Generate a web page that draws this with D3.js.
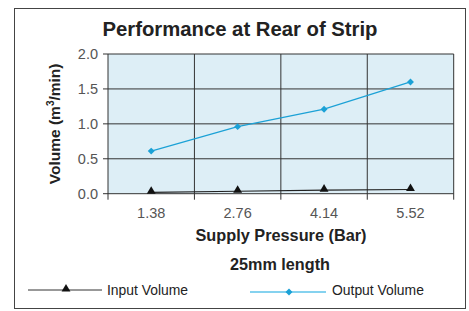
<!DOCTYPE html>
<html><head><meta charset="utf-8">
<script src="https://cdn.jsdelivr.net/npm/d3@7"></script>
<style>body{margin:0;background:#fff}svg{display:block}text{font-family:"Liberation Sans",Arial,sans-serif}</style>
</head><body><svg id="c" width="469" height="311"></svg>
<script>
const categories = ["1.38","2.76","4.14","5.52"];
const inputVolume = [0.02, 0.035, 0.05, 0.06];
const outputVolume = [0.61, 0.96, 1.21, 1.6];
const yTicks = [0, 0.5, 1.0, 1.5, 2.0];

const svg = d3.select("#c");
svg.append("rect").attr("x",14.5).attr("y",8.5).attr("width",451).attr("height",300)
  .attr("fill","#fff").attr("stroke","#444").attr("stroke-width",1);

const m = {l:108, r:453.7, t:54, b:193.7};
const x = d3.scaleBand().domain(categories).range([m.l, m.r]);
const y = d3.scaleLinear().domain([0,2]).range([m.b, m.t]);

svg.append("rect").attr("x",m.l).attr("y",m.t).attr("width",m.r-m.l).attr("height",m.b-m.t).attr("fill","#ddeef6");

// grid
const g = svg.append("g").attr("stroke","#333").attr("stroke-width",1);
yTicks.forEach(t=>{
  g.append("line").attr("x1",m.l-5).attr("x2",m.r).attr("y1",y(t)).attr("y2",y(t));
});
const bounds = categories.map(c=>x(c)).concat([m.r]);
bounds.forEach(b=>{
  g.append("line").attr("x1",b).attr("x2",b).attr("y1",m.t).attr("y2",m.b+6);
});

// y labels
svg.append("g").selectAll("text").data(yTicks).join("text")
  .attr("x",98).attr("y",d=>y(d)+5).attr("text-anchor","end")
  .attr("font-size",14.5).attr("fill","#555").text(d=>d.toFixed(1));
// x labels
svg.append("g").selectAll("text").data(categories).join("text")
  .attr("x",d=>x(d)+x.bandwidth()/2).attr("y",218).attr("text-anchor","middle")
  .attr("font-size",14.5).attr("fill","#555").text(d=>d);

const cx = c=>x(c)+x.bandwidth()/2;
const line = d3.line().x((d,i)=>cx(categories[i])).y(d=>y(d));
svg.append("path").datum(inputVolume).attr("d",line).attr("fill","none").attr("stroke","#222").attr("stroke-width",1.2);
svg.append("path").datum(outputVolume).attr("d",line).attr("fill","none").attr("stroke","#1ba1d6").attr("stroke-width",1.2);

const tri = d3.symbol().type(d3.symbolTriangle).size(34);
const dia = d3.symbol().type(d3.symbolSquare).size(24);
svg.append("g").selectAll("path").data(inputVolume).join("path")
  .attr("d",tri).attr("transform",(d,i)=>`translate(${cx(categories[i])},${y(d)-1})`).attr("fill","#111");
svg.append("g").selectAll("path").data(outputVolume).join("path")
  .attr("d",dia).attr("transform",(d,i)=>`translate(${cx(categories[i])},${y(d)}) rotate(45)`).attr("fill","#1ba1d6");

// titles
svg.append("text").attr("x",240).attr("y",36).attr("text-anchor","middle").attr("font-size",20.3).attr("font-weight","bold").attr("fill","#222").text("Performance at Rear of Strip");
svg.append("text").attr("transform",`translate(60,${(m.t+m.b)/2}) rotate(-90)`).attr("text-anchor","middle")
  .attr("font-size",15.5).attr("font-weight","bold").attr("fill","#222")
  .call(t=>{t.append("tspan").text("Volume (m");t.append("tspan").attr("font-size",10).attr("dy",-6).text("3");t.append("tspan").attr("dy",6).text("/min)");});
svg.append("text").attr("x",281).attr("y",241).attr("text-anchor","middle").attr("font-size",16.3).attr("font-weight","bold").attr("fill","#222").text("Supply Pressure (Bar)");
svg.append("text").attr("x",280).attr("y",270).attr("text-anchor","middle").attr("font-size",16.2).attr("font-weight","bold").attr("fill","#222").text("25mm length");

// legend
svg.append("line").attr("x1",28).attr("x2",102).attr("y1",290).attr("y2",290).attr("stroke","#333").attr("stroke-width",1);
svg.append("path").attr("d",tri).attr("transform","translate(66,289)").attr("fill","#111");
svg.append("text").attr("x",107).attr("y",295).attr("font-size",13.9).attr("fill","#222").text("Input Volume");
svg.append("line").attr("x1",250).attr("x2",326).attr("y1",292).attr("y2",292).attr("stroke","#5cc3ea").attr("stroke-width",1.5);
svg.append("path").attr("d",dia).attr("transform","translate(289,292) rotate(45)").attr("fill","#1ba1d6");
svg.append("text").attr("x",332).attr("y",295).attr("font-size",13.9).attr("fill","#222").text("Output Volume");
</script></body></html>
